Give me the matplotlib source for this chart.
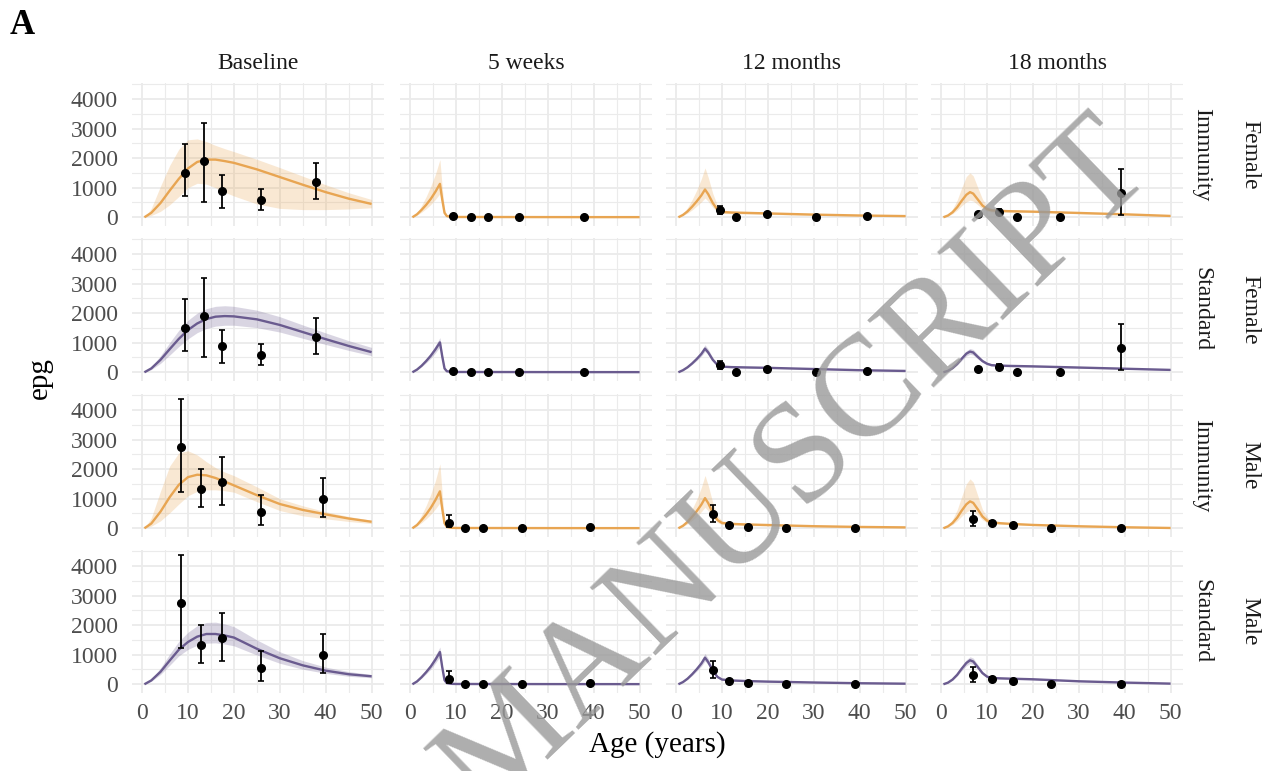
import matplotlib
matplotlib.use("Agg")
import matplotlib.pyplot as plt
from matplotlib.ticker import MultipleLocator

plt.rcParams['font.family'] = ['Liberation Serif', 'DejaVu Serif']

# ---------------- layout labels ----------------
COLUMNS = ["Baseline", "5 weeks", "12 months", "18 months"]
ROW_SEX = ["Female", "Female", "Male", "Male"]
ROW_MODEL = ["Immunity", "Standard", "Immunity", "Standard"]
X_TICKS = [0, 10, 20, 30, 40, 50]
Y_TICKS = [0, 1000, 2000, 3000, 4000]

# ---------------- observed data (mean epg with error bars) ----------------
F_BASE_AGE = [9.4, 13.4, 17.4, 25.9, 37.9]
F_BASE_EPG = [1500, 1905, 885, 594, 1176]
F_BASE_LO = [716, 515, 302, 246, 605]
F_BASE_HI = [2487, 3204, 1445, 941, 1838]

M_BASE_AGE = [8.4, 12.9, 17.4, 25.9, 39.4]
M_BASE_EPG = [2740, 1331, 1570, 557, 990]
M_BASE_LO = [1218, 727, 795, 102, 365]
M_BASE_HI = [4379, 2013, 2423, 1137, 1706]

F_5W_AGE = [9.35, 13.3, 16.9, 23.8, 37.8]
F_5W_EPG = [40, 12, 12, 12, 15]
F_5W_LO = [10, 5, 5, 5, 5]
F_5W_HI = [80, 20, 20, 20, 25]

M_5W_AGE = [8.4, 12.0, 15.8, 24.3, 39.3]
M_5W_EPG = [190, 10, 10, 10, 50]
M_5W_LO = [30, 3, 3, 3, 20]
M_5W_HI = [440, 20, 20, 20, 80]

F_12M_AGE = [9.6, 13.0, 19.9, 30.4, 41.5]
F_12M_EPG = [240, 25, 95, 20, 50]
F_12M_LO = [100, 5, 40, 5, 20]
F_12M_HI = [390, 50, 150, 35, 80]

M_12M_AGE = [8.0, 11.6, 15.6, 23.9, 39.0]
M_12M_EPG = [490, 100, 60, 20, 5]
M_12M_LO = [220, 50, 30, 5, 0]
M_12M_HI = [800, 150, 90, 35, 10]

F_18M_AGE = [8.1, 12.7, 16.6, 25.8, 39.2]
F_18M_EPG = [100, 190, 15, 10, 830]
F_18M_LO = [60, 110, 5, 3, 90]
F_18M_HI = [140, 270, 25, 20, 1620]

M_18M_AGE = [7.0, 11.0, 15.65, 24.0, 39.2]
M_18M_EPG = [330, 195, 100, 22, 5]
M_18M_LO = [80, 130, 70, 10, 0]
M_18M_HI = [590, 260, 130, 35, 10]

# ---------------- model curves ----------------
CURVE_AGE_BASE = [0.5, 2, 4, 6, 8, 10, 12, 14, 16, 18, 20, 25, 30, 35, 40, 45, 50]
FI_BASE = [0, 150, 480, 900, 1300, 1650, 1870, 1950, 1950, 1900, 1840, 1620, 1360, 1100, 850, 630, 450]
FI_BASE_HI = [0, 300, 1050, 1750, 2300, 2620, 2650, 2560, 2430, 2320, 2220, 1960, 1680, 1390, 1100, 830, 600]
FI_BASE_LO = [0, 60, 200, 420, 700, 1000, 1150, 1120, 1000, 850, 720, 450, 300, 260, 260, 280, 320]
FS_BASE = [0, 130, 420, 780, 1130, 1430, 1650, 1800, 1880, 1900, 1890, 1790, 1600, 1360, 1120, 890, 680]
FS_BASE_HI = [0, 180, 560, 1000, 1420, 1760, 2000, 2150, 2230, 2250, 2230, 2100, 1880, 1600, 1330, 1070, 840]
FS_BASE_LO = [0, 90, 300, 580, 870, 1130, 1340, 1480, 1560, 1590, 1590, 1510, 1360, 1150, 940, 740, 560]
MI_BASE = [0, 160, 560, 1050, 1470, 1730, 1810, 1790, 1700, 1580, 1450, 1120, 820, 620, 470, 330, 220]
MI_BASE_HI = [0, 350, 1250, 2100, 2550, 2620, 2480, 2250, 2050, 1900, 1780, 1400, 1000, 760, 560, 400, 270]
MI_BASE_LO = [0, 70, 250, 520, 820, 1100, 1250, 1300, 1300, 1270, 1220, 900, 600, 420, 320, 230, 160]
MS_BASE = [0, 130, 420, 800, 1170, 1430, 1610, 1700, 1700, 1650, 1580, 1200, 880, 640, 460, 340, 270]
MS_BASE_HI = [0, 170, 550, 1020, 1450, 1760, 1980, 2090, 2100, 2040, 1950, 1500, 1100, 800, 580, 430, 330]
MS_BASE_LO = [0, 100, 330, 640, 960, 1180, 1320, 1390, 1400, 1360, 1300, 990, 710, 510, 370, 270, 220]

CURVE_AGE_5W = [0.5, 1.5, 2.5, 3.5, 4.5, 5.5, 6.5, 7.0, 7.5, 8, 9, 10, 20, 30, 40, 50]
FI_5W = [0, 100, 250, 420, 620, 860, 1130, 600, 150, 40, 15, 10, 8, 6, 5, 5]
FI_5W_HI = [0, 150, 400, 700, 1050, 1450, 1950, 1000, 250, 70, 25, 15, 12, 10, 8, 8]
FI_5W_LO = [0, 70, 170, 290, 430, 600, 800, 400, 90, 20, 8, 5, 5, 4, 3, 3]
FS_5W = [0, 90, 220, 380, 560, 770, 1010, 540, 130, 35, 15, 10, 8, 6, 5, 5]
FS_5W_HI = [0, 105, 260, 440, 650, 900, 1170, 630, 160, 45, 20, 13, 10, 8, 7, 7]
FS_5W_LO = [0, 75, 185, 320, 470, 650, 860, 460, 110, 28, 10, 7, 6, 5, 4, 4]
MI_5W = [0, 110, 280, 470, 690, 950, 1250, 660, 170, 45, 15, 10, 8, 6, 5, 5]
MI_5W_HI = [0, 170, 450, 770, 1150, 1600, 2180, 1150, 300, 80, 25, 15, 12, 10, 8, 8]
MI_5W_LO = [0, 75, 190, 320, 470, 650, 860, 450, 110, 30, 8, 5, 5, 4, 3, 3]
MS_5W = [0, 95, 240, 410, 600, 830, 1090, 580, 140, 40, 15, 10, 8, 6, 5, 5]
MS_5W_HI = [0, 110, 280, 480, 700, 970, 1260, 670, 165, 48, 20, 13, 10, 8, 7, 7]
MS_5W_LO = [0, 80, 205, 350, 510, 710, 930, 500, 115, 32, 10, 7, 6, 5, 4, 4]

CURVE_AGE_12M = [0.5, 1.5, 2.5, 3.5, 4.5, 5.5, 6.3, 7.0, 8.0, 9.0, 10.0, 12, 15, 20, 30, 40, 50]
FI_12M = [0, 80, 200, 360, 540, 740, 940, 780, 480, 260, 180, 160, 150, 130, 90, 60, 40]
FI_12M_HI = [0, 120, 330, 600, 920, 1300, 1670, 1350, 800, 400, 250, 210, 190, 170, 120, 80, 55]
FI_12M_LO = [0, 60, 140, 250, 380, 520, 650, 540, 330, 180, 130, 120, 110, 95, 65, 40, 25]
FS_12M = [0, 70, 170, 300, 450, 620, 800, 670, 420, 250, 190, 175, 165, 150, 110, 70, 45]
FS_12M_HI = [0, 80, 200, 350, 520, 720, 930, 780, 490, 290, 220, 200, 190, 172, 127, 82, 53]
FS_12M_LO = [0, 62, 150, 265, 395, 545, 705, 590, 370, 220, 167, 154, 145, 132, 97, 62, 40]
MI_12M = [0, 85, 215, 390, 580, 800, 1020, 850, 520, 280, 180, 150, 130, 110, 70, 45, 30]
MI_12M_HI = [0, 130, 350, 650, 980, 1380, 1785, 1450, 860, 430, 250, 200, 170, 140, 90, 60, 40]
MI_12M_LO = [0, 60, 150, 270, 400, 560, 710, 590, 360, 195, 125, 105, 90, 78, 50, 30, 20]
MS_12M = [0, 75, 190, 340, 510, 700, 900, 750, 460, 250, 160, 130, 110, 90, 60, 35, 20]
MS_12M_HI = [0, 86, 220, 395, 590, 810, 1040, 870, 530, 290, 185, 150, 127, 104, 70, 41, 24]
MS_12M_LO = [0, 65, 165, 295, 445, 610, 785, 655, 400, 218, 140, 113, 96, 78, 52, 30, 17]

CURVE_AGE_18M = [0.5, 1.5, 2.5, 3.5, 4.5, 5.5, 6.3, 7.0, 8.0, 9.0, 10.0, 11.0, 13, 15, 20, 30, 40, 50]
FI_18M = [0, 60, 170, 340, 560, 760, 850, 800, 600, 400, 280, 235, 215, 205, 190, 146, 100, 45]
FI_18M_HI = [0, 90, 280, 580, 1000, 1380, 1500, 1400, 1000, 620, 380, 300, 260, 240, 220, 175, 120, 60]
FI_18M_LO = [0, 45, 120, 240, 390, 520, 580, 550, 420, 290, 210, 180, 170, 165, 160, 120, 80, 30]
FS_18M = [0, 50, 140, 280, 460, 630, 700, 670, 520, 380, 290, 240, 225, 215, 200, 160, 120, 80]
FS_18M_HI = [0, 58, 160, 320, 530, 725, 805, 770, 600, 437, 333, 276, 259, 247, 230, 184, 138, 92]
FS_18M_LO = [0, 44, 122, 244, 400, 548, 610, 583, 452, 330, 252, 209, 196, 187, 174, 139, 104, 70]
MI_18M = [0, 65, 180, 360, 600, 810, 910, 860, 640, 400, 260, 200, 170, 150, 113, 68, 34, 10]
MI_18M_HI = [0, 100, 300, 620, 1080, 1500, 1670, 1560, 1100, 640, 380, 260, 210, 180, 135, 82, 42, 14]
MI_18M_LO = [0, 45, 125, 250, 410, 550, 620, 590, 450, 290, 190, 150, 135, 120, 92, 55, 27, 7]
MS_18M = [0, 55, 160, 320, 530, 720, 810, 770, 580, 380, 260, 213, 200, 190, 169, 101, 57, 22]
MS_18M_HI = [0, 64, 185, 370, 610, 830, 930, 885, 667, 437, 300, 245, 230, 218, 194, 116, 66, 26]
MS_18M_LO = [0, 48, 140, 280, 460, 625, 705, 670, 505, 330, 226, 185, 174, 165, 147, 88, 50, 19]

# ---------------- styles ----------------
ORANGE = "#E8A552"
PURPLE = "#6A5B8F"
GRID = "#EBEBEB"
TICK_COLOR = "#4D4D4D"

obs = {
    ("Female", 0): (F_BASE_AGE, F_BASE_EPG, F_BASE_LO, F_BASE_HI),
    ("Female", 1): (F_5W_AGE, F_5W_EPG, F_5W_LO, F_5W_HI),
    ("Female", 2): (F_12M_AGE, F_12M_EPG, F_12M_LO, F_12M_HI),
    ("Female", 3): (F_18M_AGE, F_18M_EPG, F_18M_LO, F_18M_HI),
    ("Male", 0): (M_BASE_AGE, M_BASE_EPG, M_BASE_LO, M_BASE_HI),
    ("Male", 1): (M_5W_AGE, M_5W_EPG, M_5W_LO, M_5W_HI),
    ("Male", 2): (M_12M_AGE, M_12M_EPG, M_12M_LO, M_12M_HI),
    ("Male", 3): (M_18M_AGE, M_18M_EPG, M_18M_LO, M_18M_HI),
}
curve_ages = [CURVE_AGE_BASE, CURVE_AGE_5W, CURVE_AGE_12M, CURVE_AGE_18M]
curves = [
    [(FI_BASE, FI_BASE_LO, FI_BASE_HI), (FI_5W, FI_5W_LO, FI_5W_HI), (FI_12M, FI_12M_LO, FI_12M_HI), (FI_18M, FI_18M_LO, FI_18M_HI)],
    [(FS_BASE, FS_BASE_LO, FS_BASE_HI), (FS_5W, FS_5W_LO, FS_5W_HI), (FS_12M, FS_12M_LO, FS_12M_HI), (FS_18M, FS_18M_LO, FS_18M_HI)],
    [(MI_BASE, MI_BASE_LO, MI_BASE_HI), (MI_5W, MI_5W_LO, MI_5W_HI), (MI_12M, MI_12M_LO, MI_12M_HI), (MI_18M, MI_18M_LO, MI_18M_HI)],
    [(MS_BASE, MS_BASE_LO, MS_BASE_HI), (MS_5W, MS_5W_LO, MS_5W_HI), (MS_12M, MS_12M_LO, MS_12M_HI), (MS_18M, MS_18M_LO, MS_18M_HI)],
]

W, H = 1266, 771
fig = plt.figure(figsize=(W / 100, H / 100), dpi=100)
fig.patch.set_facecolor("white")

col_left = [132, 400, 666, 931]
row_top = [83, 238, 394, 550]
pw, ph = 252, 143

for r in range(4):
    color = ORANGE if ROW_MODEL[r] == "Immunity" else PURPLE
    for c in range(4):
        ax = fig.add_axes([col_left[c] / W, 1 - (row_top[r] + ph) / H, pw / W, ph / H])
        ax.set_xlim(-2.2, 52.7)
        ax.set_ylim(-295, 4540)
        ax.xaxis.set_major_locator(MultipleLocator(10))
        ax.xaxis.set_minor_locator(MultipleLocator(5))
        ax.yaxis.set_major_locator(MultipleLocator(1000))
        ax.yaxis.set_minor_locator(MultipleLocator(500))
        ax.grid(which="major", color=GRID, lw=1.3)
        ax.grid(which="minor", color=GRID, lw=0.8)
        ax.set_axisbelow(True)
        for s in ax.spines.values():
            s.set_visible(False)
        ax.tick_params(which="both", length=0, colors=TICK_COLOR, labelsize=17)
        ax.tick_params(axis="y", pad=10)
        ax.tick_params(axis="x", pad=7)
        ax.set_xticks(X_TICKS)
        ax.set_yticks(Y_TICKS)
        if c != 0:
            ax.set_yticklabels([])
        if r != 3:
            ax.set_xticklabels([])

        mean, lo, hi = curves[r][c]
        ages = curve_ages[c]
        ax.fill_between(ages, lo, hi, color=color, alpha=0.25, lw=0)
        ax.plot(ages, mean, color=color, lw=1.7, solid_capstyle="butt")

        a, e, l, h = obs[(ROW_SEX[r], c)]
        yerr = [[ei - li for ei, li in zip(e, l)], [hi_ - ei for ei, hi_ in zip(e, h)]]
        ax.errorbar(a, e, yerr=yerr, fmt="o", color="black", ms=5.5, lw=1.3,
                    capsize=2, capthick=1.2, zorder=5)

        if r == 0:
            ax.set_title(COLUMNS[c], fontsize=17, color="#1A1A1A", pad=10)
        if c == 3:
            ax.text(1.075, 0.5, ROW_MODEL[r], transform=ax.transAxes, rotation=-90,
                    ha="center", va="center", fontsize=17, color="#1A1A1A")
            ax.text(1.265, 0.5, ROW_SEX[r], transform=ax.transAxes, rotation=-90,
                    ha="center", va="center", fontsize=17, color="#1A1A1A")

fig.text(40 / W, 1 - 378 / H, "epg", rotation=90, ha="center", va="center", fontsize=21)
fig.text(657 / W, 1 - 745 / H, "Age (years)", ha="center", va="center", fontsize=21)
fig.text(10 / W, 1 - 26 / H, "A", ha="left", va="center", fontsize=25, fontweight="bold")

# watermark
fig.text(796 / W, 1 - 468 / H, "MANUSCRIPT", rotation=44, ha="center", va="center",
         fontsize=104, color="#999999", alpha=0.8, zorder=20)

fig.savefig("out.png", dpi=100, facecolor="white")
